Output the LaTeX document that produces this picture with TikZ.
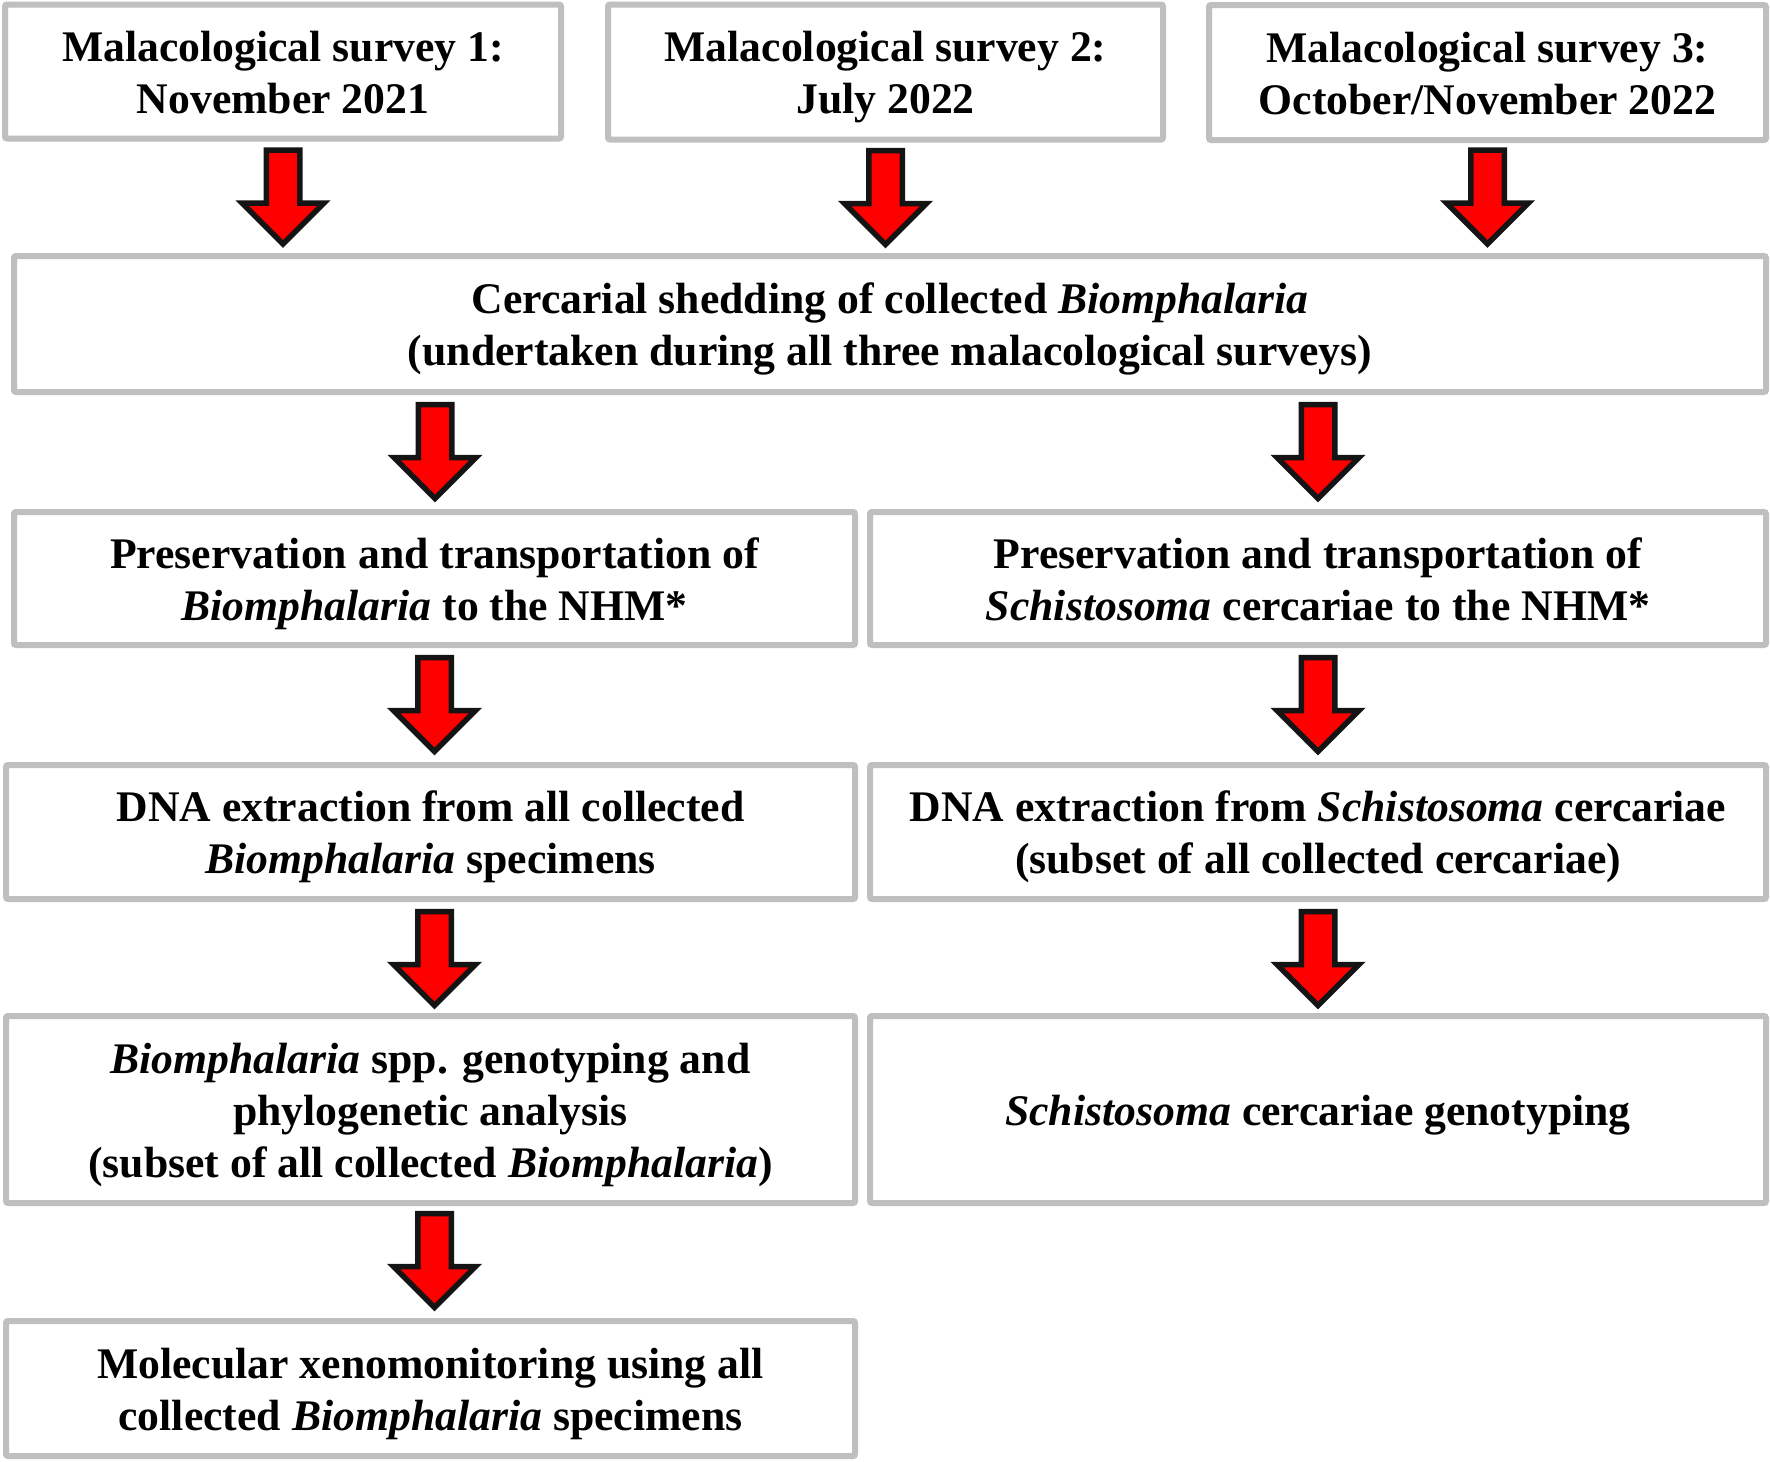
\documentclass[tikz,border=0pt]{standalone}
\usepackage{fontspec}
\setmainfont{Liberation Serif}
\usetikzlibrary{calc}
\definecolor{boxgray}{HTML}{BFBFBF}
\definecolor{arrred}{HTML}{FF0000}
\definecolor{arrline}{HTML}{141414}
\newcommand\topstrut{\rule{0pt}{42pt}}
\newcommand\botstrut{\rule[-11pt]{0pt}{11pt}}
\tikzset{
  flowbox/.style={draw=boxgray, line width=6pt, fill=white, rounded corners=2pt,
    inner sep=0pt, outer sep=0pt, align=center,
    font=\bfseries\fontsize{43.7}{52}\selectfont},
  redarrow/.pic={\draw[line width=5.5pt, draw=arrline, fill=arrred, line join=miter]
    (-16.75,0) -- (16.75,0) -- (16.75,53) -- (41,53) -- (0,94) -- (-41,53) -- (-16.75,53) -- cycle;}
}
\begin{document}
\begin{tikzpicture}[x=1pt,y=-1pt]
\useasboundingbox (0,0) rectangle (1770,1462);
\node[flowbox, minimum width=556pt, minimum height=134pt] (b1) at (283,71.5)
  {\topstrut Malacological survey 1:\\November 2021\botstrut};
\node[flowbox, minimum width=555pt, minimum height=135pt] (b2) at (885.5,72)
  {\topstrut Malacological survey 2:\\July 2022\botstrut};
\node[flowbox, minimum width=557pt, minimum height=135pt] (b3) at (1487.5,72.5)
  {\topstrut Malacological survey 3:\\October/November 2022\botstrut};
\node[flowbox, minimum width=1752pt, minimum height=136pt] (c) at (890,324)
  {\topstrut Cercarial shedding of collected \textit{Biomphalaria}\\(undertaken during all three malacological surveys)\botstrut};
\node[flowbox, minimum width=841pt, minimum height=133pt] (l3) at (434.5,578.5)
  {\topstrut Preservation and transportation of\\\textit{Biomphalaria} to the NHM*\botstrut};
\node[flowbox, minimum width=896pt, minimum height=133pt] (r3) at (1318,578.5)
  {\topstrut Preservation and transportation of\\\textit{Schistosoma} cercariae to the NHM*\botstrut};
\node[flowbox, minimum width=849pt, minimum height=134pt] (l4) at (430.5,832)
  {\topstrut DNA extraction from all collected\\\textit{Biomphalaria} specimens\botstrut};
\node[flowbox, minimum width=896pt, minimum height=134pt] (r4) at (1318,832)
  {\topstrut DNA extraction from \textit{Schistosoma} cercariae\\(subset of all collected cercariae)\botstrut};
\node[flowbox, minimum width=849pt, minimum height=187pt] (l5) at (430.5,1109.5)
  {\topstrut\textit{Biomphalaria} spp. genotyping and\\phylogenetic analysis\\(subset of all collected \textit{Biomphalaria})\botstrut};
\node[flowbox, minimum width=896pt, minimum height=187pt] (r5) at (1318,1109.5)
  {\topstrut\textit{Schistosoma} cercariae genotyping\botstrut};
\node[flowbox, minimum width=849pt, minimum height=135pt] (l6) at (430.5,1388.5)
  {\topstrut Molecular xenomonitoring using all\\collected \textit{Biomphalaria} specimens\botstrut};
% block arrows
\pic at ($(b1.south)+(0,11.5)$) {redarrow};
\pic at ($(b2.south)+(0,11)$) {redarrow};
\pic at ($(b3.south)+(0,10)$) {redarrow};
\pic at ($(c.south -| l3.south)+(0.5,12.5)$) {redarrow};
\pic at ($(c.south -| r3.south)+(0,12.5)$) {redarrow};
\pic at ($(l3.south)+(0,12.5)$) {redarrow};
\pic at ($(r3.south)+(0,12.5)$) {redarrow};
\pic at ($(l4.south)+(4,12.5)$) {redarrow};
\pic at ($(r4.south)+(0,12.5)$) {redarrow};
\pic at ($(l5.south)+(4,10.5)$) {redarrow};
\end{tikzpicture}
\end{document}
